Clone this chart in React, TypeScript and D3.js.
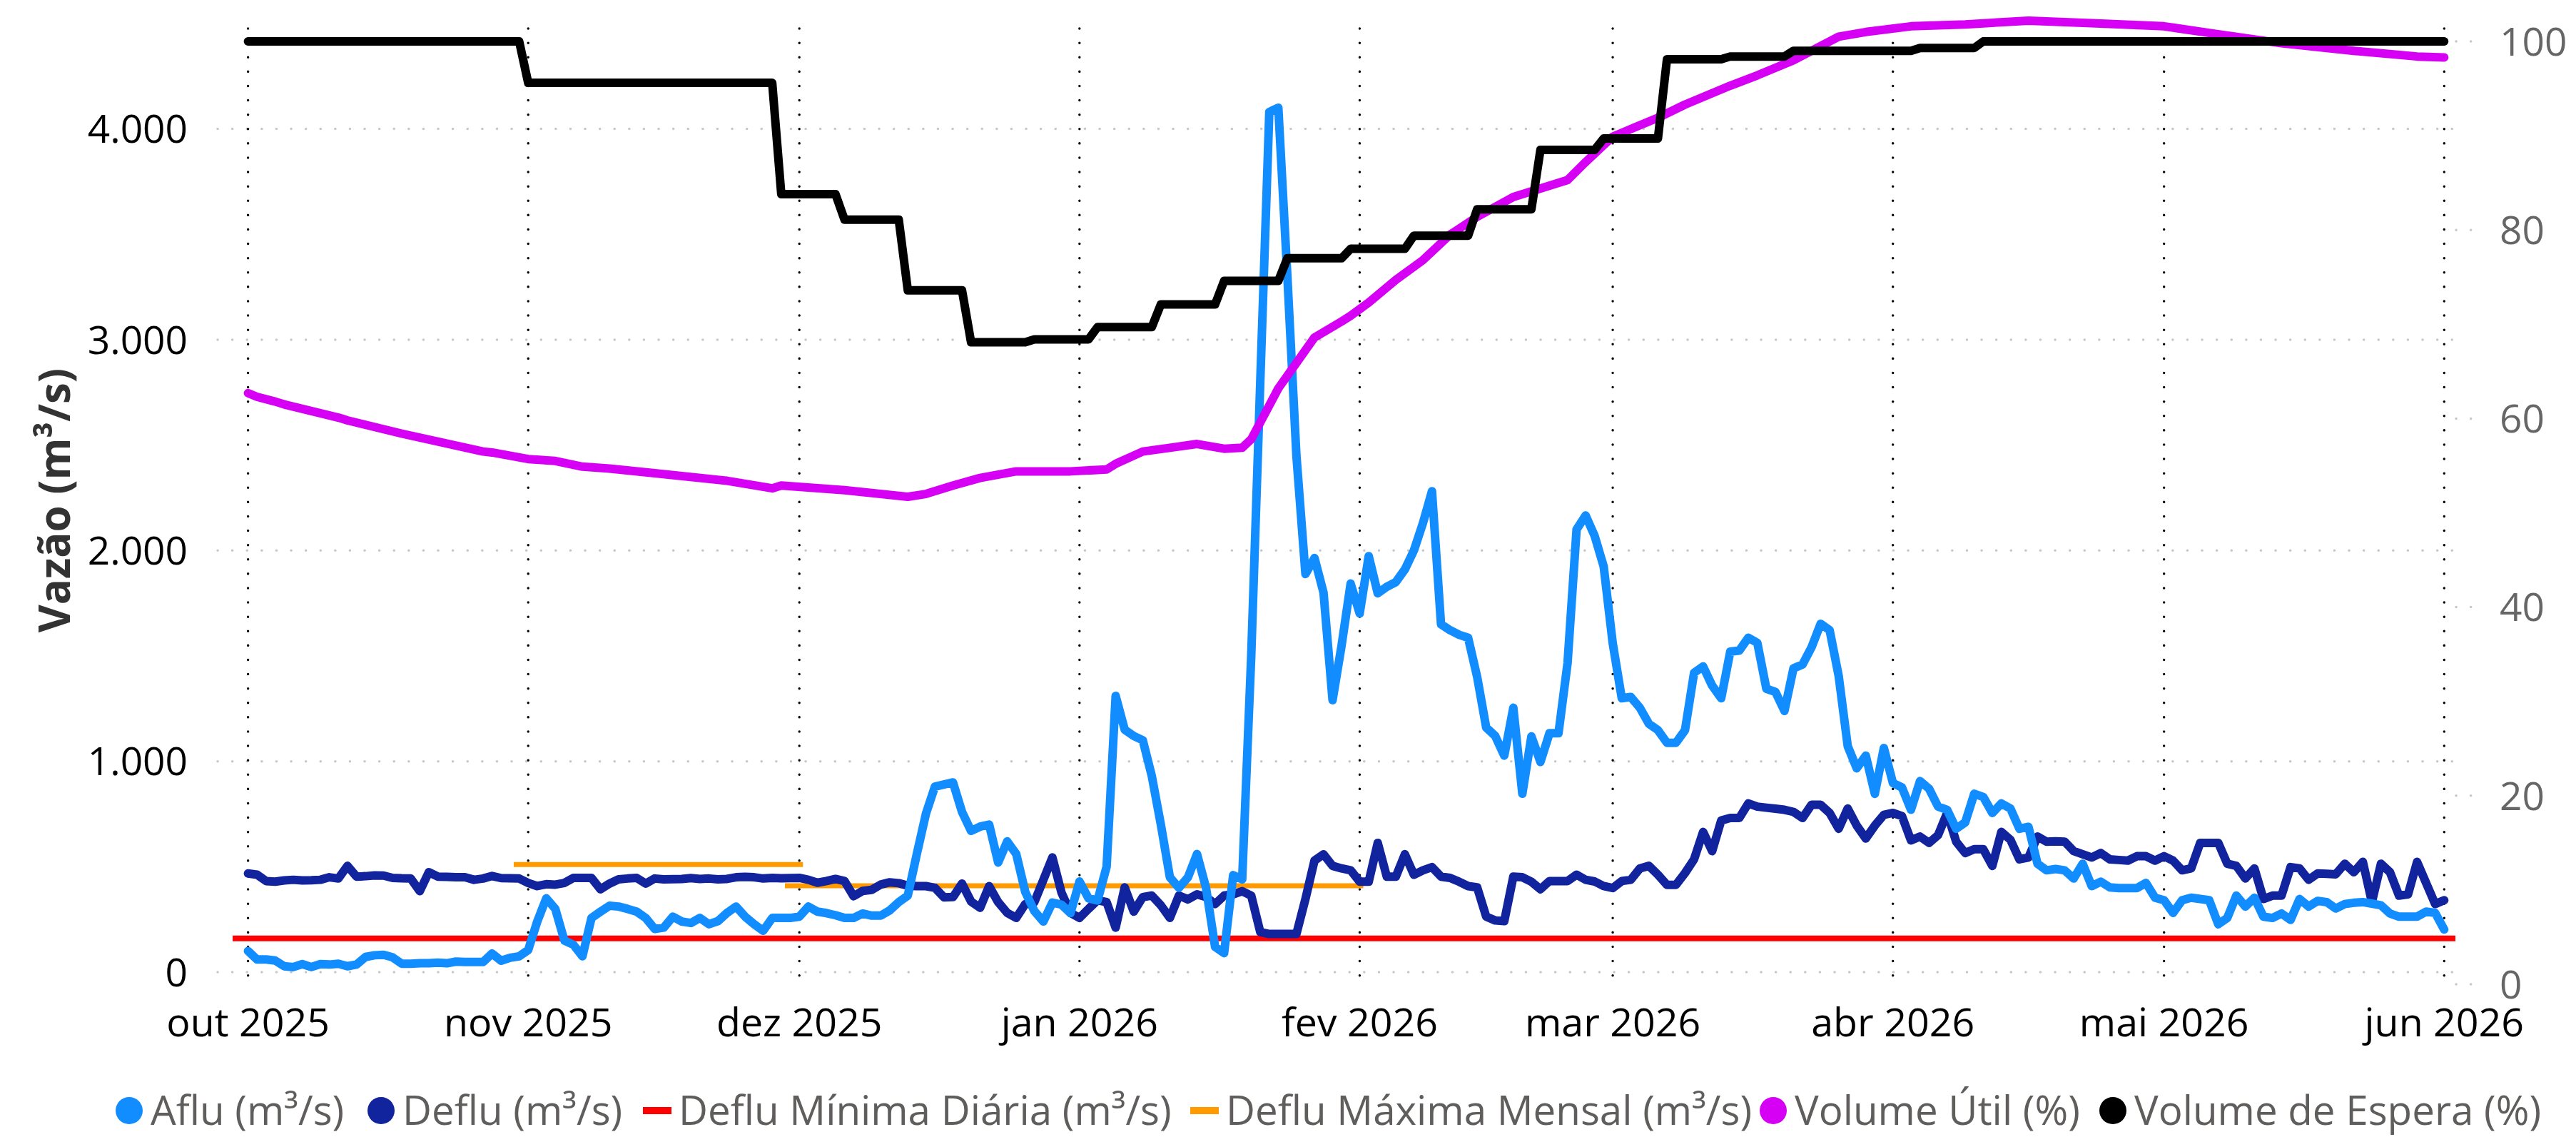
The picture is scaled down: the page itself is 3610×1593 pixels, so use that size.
import React from "react";
import * as d3 from "d3";

const W = 3610;
const H = 1593;
const FONT = "'Segoe UI', 'Open Sans', sans-serif";

// ---- time axis ----
const startDate = new Date(Date.UTC(2025, 9, 1));
const endDate = new Date(Date.UTC(2026, 5, 1));
const monthLabels = ["out 2025", "nov 2025", "dez 2025", "jan 2026", "fev 2026", "mar 2026", "abr 2026", "mai 2026", "jun 2026"];
const leftTicks = [0, 1000, 2000, 3000, 4000];
const rightTicks = [0, 20, 40, 60, 80, 100];

// ---- data (daily, day 0 = 2025-10-01) ----
const afluDaily = [
  // out
  100, 60, 60, 55, 28, 24, 38, 24, 38, 36, 40, 28, 36, 72, 80, 82, 70, 40, 40, 42, 42, 45, 42, 50, 48, 48, 48, 88, 54, 68, 75,
  // nov
  105, 240, 350, 300, 150, 130, 75, 257, 287, 315, 311, 300, 287, 257, 205, 211, 263, 240, 233, 257, 227, 242, 281, 311, 263, 227, 196, 257, 257, 257,
  // dez
  263, 311, 287, 280, 270, 257, 257, 278, 268, 268, 293, 332, 363, 560, 750, 880, 890, 900, 760, 670, 690, 700, 520, 620, 560, 380, 290, 240, 330, 320, 280,
  // jan
  430, 350, 340, 500, 1310, 1150, 1120, 1100, 930, 700, 450, 400, 450, 560, 400, 120, 90, 460, 440, 1500, 2800, 4080, 4100, 3300, 2450, 1888, 1964, 1800, 1290, 1550, 1843,
  // fev
  1701, 1973, 1797, 1828, 1850, 1910, 2000, 2130, 2281, 1650, 1622, 1600, 1586, 1400, 1160, 1120, 1027, 1254, 846, 1118, 997, 1133, 1133, 1465, 2100, 2166, 2069, 1924,
  // mar
  1560, 1299, 1305, 1254, 1178, 1148, 1088, 1088, 1148, 1420, 1450, 1359, 1299, 1520, 1525, 1586, 1562, 1344, 1329, 1239, 1441, 1459, 1541, 1652, 1622, 1405, 1072, 967, 1027, 846, 1063,
  // abr
  897, 876, 770, 906, 870, 785, 770, 680, 710, 846, 831, 755, 800, 776, 680, 689, 514, 483, 489, 483, 444, 514, 408, 429, 402, 399, 399, 399, 423, 353,
  // mai
  341, 281, 341, 353, 347, 341, 227, 257, 363, 311, 353, 263, 257, 278, 248, 347, 311, 338, 332, 302, 323, 329, 332, 325, 317, 278, 263, 263, 263, 287, 281,
  // jun
  202,
];

const defluDaily = [
  // out
  468, 462, 432, 429, 435, 438, 435, 436, 438, 450, 444, 504, 453, 455, 459, 458, 447, 445, 444, 384, 474, 453, 452, 450, 450, 438, 444, 456, 446, 445, 444,
  // nov
  423, 408, 417, 415, 423, 447, 447, 447, 393, 420, 440, 444, 447, 420, 444, 440, 441, 442, 446, 442, 444, 440, 442, 450, 452, 450, 444, 447, 445, 446,
  // dez
  447, 438, 424, 432, 442, 432, 360, 385, 390, 415, 426, 422, 410, 408, 408, 400, 355, 356, 420, 335, 305, 408, 332, 281, 257, 323, 332, 438, 544, 378, 281,
  // jan
  257, 300, 341, 332, 211, 402, 287, 356, 363, 317, 257, 363, 345, 369, 356, 323, 363, 369, 384, 363, 190, 181, 181, 181, 181, 347, 529, 559, 504, 492, 483,
  // fev
  429, 429, 613, 453, 453, 559, 462, 483, 498, 453, 447, 429, 408, 402, 263, 245, 242, 453, 450, 429, 393, 432, 432, 432, 462, 438, 430, 408,
  // mar
  399, 432, 438, 492, 504, 462, 414, 414, 470, 535, 665, 574, 719, 731, 731, 800, 785, 780, 775, 770, 760, 731, 794, 794, 755, 680, 776, 695, 634, 695, 746,
  // abr
  755, 740, 625, 643, 613, 650, 755, 619, 565, 583, 583, 504, 665, 628, 535, 544, 643, 619, 620, 619, 574, 559, 544, 565, 535, 532, 529, 550, 550, 529,
  // mai
  550, 529, 483, 492, 613, 613, 613, 514, 504, 444, 492, 347, 363, 363, 498, 492, 438, 468, 466, 464, 514, 474, 523, 332, 514, 474, 363, 369, 523, 423, 323,
  // jun
  341,
];

const utilDays = [0, 1, 3, 4, 7, 10, 11, 17, 26, 27, 31, 34, 37, 40, 45, 53, 58, 59, 66, 73, 75, 78, 81, 85, 91, 95, 96, 99, 102, 105, 108, 110, 111, 114, 116, 118, 121, 122, 124, 127, 130, 133, 136, 140, 146, 148, 151, 156, 159, 164, 167, 171, 176, 179, 184, 190, 197, 205, 212, 217, 225, 233, 240, 243];
const utilValues = [62.7, 62.3, 61.8, 61.5, 60.8, 60.1, 59.8, 58.4, 56.5, 56.4, 55.7, 55.5, 54.9, 54.7, 54.2, 53.4, 52.6, 52.9, 52.4, 51.7, 52.0, 52.9, 53.7, 54.4, 54.4, 54.6, 55.2, 56.5, 56.9, 57.3, 56.8, 56.9, 57.8, 63.2, 65.9, 68.6, 70.3, 70.9, 72.3, 74.7, 76.8, 79.5, 81.4, 83.5, 85.3, 87.2, 89.9, 91.9, 93.3, 95.3, 96.4, 98.0, 100.5, 101.0, 101.6, 101.8, 102.2, 101.9, 101.6, 100.9, 99.8, 99.0, 98.4, 98.3];

const esperaStart = [0, 31, 59, 66, 73, 80, 87, 94, 101, 108, 115, 122, 129, 136, 143, 150, 157, 164, 171, 185, 192];
const esperaEnd = [30, 58, 65, 72, 79, 86, 93, 100, 107, 114, 121, 128, 135, 142, 149, 156, 163, 170, 184, 191, 243];
const esperaValue = [100, 95.6, 83.8, 81.1, 73.6, 68.1, 68.4, 69.7, 72.1, 74.6, 77.0, 78.0, 79.4, 82.2, 88.5, 89.7, 98.1, 98.4, 99.0, 99.3, 100];

const defluMinValue = 160;
const maxMensalStartDay = [29.4, 59.4];
const maxMensalEndDay = [61.4, 123.4];
const maxMensalValue = [510, 410];

const legendItems = [
  { label: "Aflu (m³/s)", color: "#118DFF", kind: "dot", x: 181 },
  { label: "Deflu (m³/s)", color: "#12239E", kind: "dot", x: 534 },
  { label: "Deflu Mínima Diária (m³/s)", color: "#FF0000", kind: "line", x: 921 },
  { label: "Deflu Máxima Mensal (m³/s)", color: "#FF9A00", kind: "line", x: 1688 },
  { label: "Volume Útil (%)", color: "#D600F5", kind: "dot", x: 2485 },
  { label: "Volume de Espera (%)", color: "#000000", kind: "dot", x: 2961 },
];

const DAY = 86400000;
const dayToDate = (d: number) => new Date(startDate.getTime() + d * DAY);

export default function App() {
  const x = d3.scaleUtc().domain([startDate, endDate]).range([347.6, 3425.3]);
  const yL = d3.scaleLinear().domain([0, 4000]).range([1362, 180.5]);
  const yR = d3.scaleLinear().domain([0, 100]).range([1379, 58]);
  const gridX0 = 305;
  const gridX1 = 3445;

  const months = d3.utcMonth.range(startDate, d3.utcDay.offset(endDate, 1));

  const lineL = d3.line<[number, number]>().x((p) => x(dayToDate(p[0]))).y((p) => yL(p[1]));
  const lineR = d3.line<[number, number]>().x((p) => x(dayToDate(p[0]))).y((p) => yR(p[1]));

  const aflu = lineL(afluDaily.map((v, i) => [i, v] as [number, number]));
  const deflu = lineL(defluDaily.map((v, i) => [i, v] as [number, number]));
  const util = lineR(utilDays.map((d, i) => [d, utilValues[i]] as [number, number]));
  const esperaPts: [number, number][] = [];
  esperaStart.forEach((s, i) => {
    esperaPts.push([s, esperaValue[i]]);
    esperaPts.push([esperaEnd[i], esperaValue[i]]);
  });
  const espera = lineR(esperaPts);

  const txtStyle = { fontFamily: FONT } as React.CSSProperties;
  const LW = 12;

  return (
    <div style={{ position: "absolute", left: 0, top: 0, width: W, height: H, background: "#fff" }}>
      <svg width={W} height={H} viewBox={`0 0 ${W} ${H}`} style={{ display: "block" }}>
        <rect width={W} height={H} fill="#fff" />
        {/* horizontal grid */}
        {leftTicks.map((t) => (
          <line key={"g" + t} x1={gridX0} x2={gridX1} y1={yL(t)} y2={yL(t)} stroke="#C8C8C8" strokeWidth={3.5} strokeDasharray="0.1 20.5" strokeLinecap="round" />
        ))}
        {/* right axis stubs */}
        {rightTicks.map((t) => (
          <line key={"r" + t} x1={3442} x2={3466} y1={yR(t)} y2={yR(t)} stroke="#C8C8C8" strokeWidth={3.5} strokeDasharray="0.1 20.5" strokeLinecap="round" />
        ))}
        {/* vertical month lines */}
        {months.map((m) => (
          <line key={"v" + m.getTime()} x1={x(m)} x2={x(m)} y1={40} y2={1386} stroke="#000" strokeWidth={3.4} strokeDasharray="0.1 20" strokeLinecap="round" />
        ))}
        {/* left tick labels */}
        {leftTicks.map((t) => (
          <text key={"lt" + t} x={263} y={yL(t)} dy="0.36em" textAnchor="end" fontSize={55} fill="#000" style={txtStyle}>
            {d3.format(",")(t).replace(/,/g, ".")}
          </text>
        ))}
        {/* right tick labels */}
        {rightTicks.map((t) => (
          <text key={"rt" + t} x={3503} y={yR(t)} dy="0.36em" textAnchor="start" fontSize={55} fill="#666666" style={txtStyle}>
            {t}
          </text>
        ))}
        {/* x labels */}
        {months.map((m, i) => (
          <text key={"xl" + i} x={x(m)} y={1452} textAnchor="middle" fontSize={55.5} fill="#000" style={txtStyle}>
            {monthLabels[i]}
          </text>
        ))}
        {/* y title */}
        <text transform={`translate(76,701) rotate(-90)`} textAnchor="middle" dy="0.36em" fontSize={60} fontWeight="bold" fill="#333333" style={txtStyle}>
          Vazão (m³/s)
        </text>

        {/* series */}
        <line x1={326} x2={3441} y1={yL(defluMinValue)} y2={yL(defluMinValue)} stroke="#FF0000" strokeWidth={8} />
        {maxMensalValue.map((v, i) => (
          <line key={"mm" + i} x1={x(dayToDate(maxMensalStartDay[i]))} x2={x(dayToDate(maxMensalEndDay[i]))} y1={yL(v)} y2={yL(v)} stroke="#FF9A00" strokeWidth={7} />
        ))}
        <path d={deflu || ""} fill="none" stroke="#12239E" strokeWidth={LW} strokeLinejoin="round" strokeLinecap="round" />
        <path d={aflu || ""} fill="none" stroke="#118DFF" strokeWidth={LW} strokeLinejoin="round" strokeLinecap="round" />
        <path d={util || ""} fill="none" stroke="#D600F5" strokeWidth={LW} strokeLinejoin="round" strokeLinecap="round" />
        <path d={espera || ""} fill="none" stroke="#000000" strokeWidth={LW} strokeLinejoin="round" strokeLinecap="round" />

        {/* legend */}
        {legendItems.map((it, i) => (
          <g key={"lg" + i} transform={`translate(${it.x},1556)`}>
            {it.kind === "dot" ? (
              <circle r={19} fill={it.color} />
            ) : (
              <rect x={-20} y={-5} width={40} height={10} fill={it.color} />
            )}
            <text x={30} y={20} fontSize={56.5} fill="#605E5C" style={txtStyle}>
              {it.label}
            </text>
          </g>
        ))}
      </svg>
    </div>
  );
}
